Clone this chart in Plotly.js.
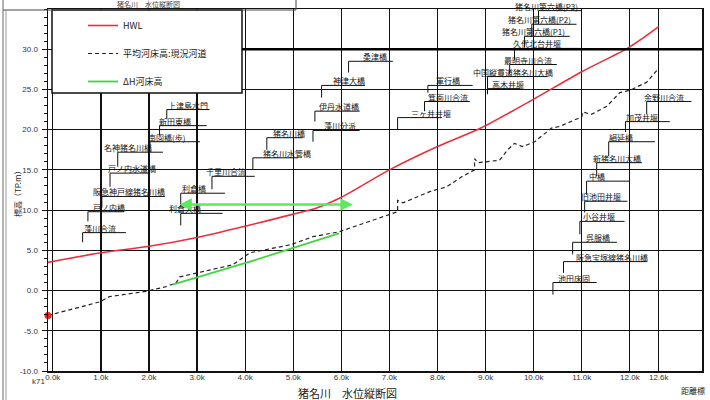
<!DOCTYPE html>
<html><head><meta charset="utf-8">
<script src="https://cdn.plot.ly/plotly-3.0.1.min.js"></script>
<style>html,body{margin:0;padding:0;background:#fff}#chart{width:710px;height:400px}</style>
</head><body><div id="chart"></div>
<script>
// HWL
const hwlKm = [-0.1, 1.0, 2.0, 3.0, 4.0, 5.0, 5.5, 6.0, 7.0, 8.0, 8.9, 10.0, 11.0, 12.0, 12.6];
const hwlEl = [3.5, 4.7, 5.5, 6.6, 8.0, 9.5, 10.3, 11.6, 15.0, 17.9, 20.2, 23.8, 27.2, 30.3, 32.8];
// 平均河床高：現況河道
const bedKm = [-0.1, 0.98, 1.18, 1.93, 2.37, 2.47, 2.55, 2.64, 3.74, 4.10, 4.95, 5.41, 5.95, 6.59, 7.17, 7.17, 7.28, 7.84, 8.19, 8.52, 8.77, 8.77, 8.84, 9.29, 9.46, 9.60, 9.77, 10.02, 10.37, 10.54, 10.89, 11.0, 11.02, 11.2, 11.52, 11.79, 11.93, 12.04, 12.35, 12.58];
const bedEl = [-3.1, -1.4, -0.75, -0.1, 0.5, 0.75, 0.8, 1.7, 3.2, 4.7, 5.7, 6.7, 7.3, 8.6, 9.8, 11.2, 10.9, 12.3, 12.9, 14.2, 15.0, 16.4, 15.9, 16.2, 17.5, 18.3, 17.9, 18.5, 20.2, 20.4, 21.3, 21.6, 22.2, 21.9, 22.9, 24.6, 24.8, 25.0, 25.9, 27.5];
// ΔH河床高
const dhKm = [2.49, 4.1, 5.95];
const dhEl = [0.75, 3.6, 7.1];
// 矢印
const arrowKm = [2.6, 6.24];
const arrowEl = 10.7;

// 構造物・合流点 ラベル
const lmName = ['上津島水門','新田東橋','南園橋(歩)','名神猪名川橋','戸ノ内水道橋','阪急神戸線猪名川橋','戸ノ内橋','藻川合流',
  '利倉橋','利倉大橋','千里川合流','猪名川水管橋','猪名川橋','藻川分派','伊丹水道橋','神津大橋','桑津橋',
  '軍行橋','箕面川合流','三ヶ井井堰','中国縦貫道猪名川大橋','高木井堰','最明寺川合流','久代北台井堰',
  '猪名川第六橋(P1)','猪名川第六橋(P2)','猪名川第六橋(P3)',
  '余野川合流','加茂井堰','絹延橋','新猪名川大橋','中橋','旧池田井堰','小谷井堰','呉服橋','阪急宝塚線猪名川橋','池田床固'];
const lmTextKm = [2.37,2.18,1.95,1.04,1.12,0.81,0.81,0.62,
  2.66,2.39,3.16,4.35,4.55,5.61,5.51,5.80,6.42,
  7.94,7.78,7.42,8.71,9.11,9.36,9.54,
  9.33,9.44,9.60,
  12.27,11.89,11.54,11.21,11.12,10.96,11.0,11.06,10.85,10.48];
const lmUnderEl = [22.5,20.5,18.5,17.2,14.6,11.7,9.8,7.2,
  12.1,9.6,14.2,16.5,19.0,19.9,22.3,25.5,28.5,
  25.5,23.5,21.5,26.6,25.1,28.1,30.1,
  31.6,33.1,34.8,
  23.5,21.0,18.5,15.9,13.6,11.1,8.6,6.0,3.6,1.0];
const lmLineKm = [2.37,2.22,2.02,1.35,1.19,1.02,0.73,0.62,
  2.66,2.66,3.31,4.16,4.45,5.41,5.45,5.59,6.15,
  7.80,7.73,7.17,9.04,9.04,9.50,9.60,
  9.81,9.96,10.10,
  12.35,11.91,11.56,11.31,11.10,11.06,10.96,10.81,10.62,10.40];
const lmEndKm = [3.26,3.20,3.06,2.29,2.02,2.33,1.48,1.52,
  3.58,3.53,4.20,5.09,5.20,6.38,6.38,6.49,7.07,
  8.73,8.67,8.09,10.29,9.71,10.48,10.96,
  10.75,10.89,11.0,
  13.28,12.83,12.52,12.25,12.0,11.95,11.89,11.73,12.35,11.31];
const lmBaseEl = [21.3,19.3,17.2,15.4,12.9,10.3,8.6,6.0,
  10.4,8.1,12.6,15.0,17.5,18.5,21.0,24.0,27.1,
  24.6,22.3,20.0,25.1,24.4,26.9,28.7,
  30.2,31.6,33.1,
  21.9,19.7,16.7,14.2,11.9,9.7,7.0,4.5,2.2,-0.5];

const xTickVals = [0,1,2,3,4,5,6,7,8,9,10,11,12,12.6];
const xTickText = ['0.0k','1.0k','2.0k','3.0k','4.0k','5.0k','6.0k','7.0k','8.0k','9.0k','10.0k','11.0k','12.0k','12.6k'];
const yTickVals = [-10,-5,0,5,10,15,20,25,30];
const yTickText = ['-10.0','-5.0','0.0','5.0','10.0','15.0','20.0','25.0','30.0'];

const JP = 'Noto Sans CJK JP, Liberation Sans, sans-serif';
const NUM = 'Liberation Sans, Noto Sans CJK JP, sans-serif';

// leader lines
const ldX = [], ldY = [];
for (let i = 0; i < lmName.length; i++) {
  ldX.push(lmLineKm[i], lmLineKm[i], lmEndKm[i], null);
  ldY.push(lmBaseEl[i], lmUnderEl[i], lmUnderEl[i], null);
}

const traces = [
  {x: hwlKm, y: hwlEl, mode: 'lines', name: 'HWL', legendgroup: 'a',
   line: {color: '#ee2d3a', width: 1.6, shape: 'spline', smoothing: 0.8}},
  {x: bedKm, y: bedEl, mode: 'lines', name: '平均河床高:現況河道', legendgroup: 'b',
   line: {color: '#222', width: 1.2, dash: '4px,3px'}},
  {x: dhKm, y: dhEl, mode: 'lines', name: 'ΔH河床高', legendgroup: 'c',
   line: {color: '#3ed83e', width: 1.8}},
  {x: [bedKm[0]], y: [bedEl[0]], mode: 'markers', showlegend: false,
   marker: {color: '#ee2222', size: 7}, cliponaxis: false},
  {x: ldX, y: ldY, mode: 'lines', showlegend: false, hoverinfo: 'skip',
   line: {color: '#111', width: 1}, connectgaps: false, cliponaxis: false}
];

const P = (px) => (px - 48) / 654;
const Q = (py) => (371 - py) / 362;

const annotations = lmName.map((n, i) => ({
  x: lmTextKm[i], y: lmUnderEl[i], xref: 'x', yref: 'y', text: n, showarrow: false,
  xanchor: 'left', yanchor: 'bottom', yshift: -2, borderpad: 0,
  font: {family: JP, size: 8, color: '#111'}
}));
annotations.push(
  {x: arrowKm[1], y: arrowEl, ax: arrowKm[0], ay: arrowEl, xref: 'x', yref: 'y', axref: 'x', ayref: 'y',
   text: '', showarrow: true, arrowside: 'end+start', arrowhead: 2, arrowsize: 1, arrowwidth: 2.5, arrowcolor: '#5ee85e'},
  {x: P(347), y: Q(393), xref: 'paper', yref: 'paper', text: '猪名川　水位縦断図', showarrow: false,
   xanchor: 'center', yanchor: 'middle', font: {family: JP, size: 11, color: '#222'}},
  {x: P(17), y: Q(192), xref: 'paper', yref: 'paper', text: '標高（TP.m）', showarrow: false, textangle: -90,
   xanchor: 'center', yanchor: 'middle', font: {family: JP, size: 8, color: '#222'}},
  {x: P(693), y: Q(390), xref: 'paper', yref: 'paper', text: '距離標', showarrow: false,
   xanchor: 'center', yanchor: 'middle', font: {family: JP, size: 8, color: '#222'}},
  {x: P(38), y: Q(381), xref: 'paper', yref: 'paper', text: 'k71', showarrow: false,
   xanchor: 'center', yanchor: 'middle', font: {family: NUM, size: 8, color: '#333'}},
  {x: P(148), y: Q(4), xref: 'paper', yref: 'paper', text: '猪名川　水位縦断図', showarrow: false,
   xanchor: 'center', yanchor: 'middle', font: {family: JP, size: 7, color: '#444'}}
);

const shapes = [
  // legend box
  {type: 'rect', xref: 'paper', yref: 'paper', x0: P(52), x1: P(242), y0: Q(93), y1: Q(10),
   fillcolor: '#fff', line: {color: '#111', width: 1.5}, layer: 'above'},
  // thick 30 line
  {type: 'line', xref: 'paper', yref: 'y', x0: P(242), x1: 1, y0: 30, y1: 30, line: {color: '#000', width: 2.5}},
  // header box
  {type: 'line', xref: 'paper', yref: 'paper', x0: P(3), x1: P(296), y0: Q(10), y1: Q(10), line: {color: '#444', width: 1}},
  {type: 'line', xref: 'paper', yref: 'paper', x0: P(296), x1: P(296), y0: Q(10), y1: Q(0), line: {color: '#444', width: 1}},
  // outer frame left
  {type: 'line', xref: 'paper', yref: 'paper', x0: P(3), x1: P(3), y0: Q(400), y1: Q(0), line: {color: '#666', width: 1}},
  {type: 'line', xref: 'paper', yref: 'paper', x0: P(6), x1: P(6), y0: Q(400), y1: Q(10), line: {color: '#999', width: 1}}
];

const layout = {
  width: 710, height: 400,
  margin: {l: 48, r: 8, t: 9, b: 29},
  paper_bgcolor: '#fff', plot_bgcolor: '#fff',
  showlegend: true,
  legend: {x: P(83), y: Q(11), xanchor: 'left', yanchor: 'top', bgcolor: 'rgba(0,0,0,0)', borderwidth: 0,
           font: {family: JP, size: 9, color: '#222'}, tracegroupgap: 9, itemwidth: 30},
  xaxis: {range: [-0.1, 13.5], tickmode: 'array', tickvals: xTickVals, ticktext: xTickText,
          showgrid: true, gridcolor: '#111', gridwidth: 1.2, zeroline: false,
          showline: true, linecolor: '#111', linewidth: 1.5, mirror: true, ticks: '',
          ticklabelstandoff: -2,
          tickfont: {family: NUM, size: 8, color: '#333'}},
  yaxis: {range: [-10, 35], tickmode: 'array', tickvals: yTickVals, ticktext: yTickText,
          showgrid: true, gridcolor: '#111', gridwidth: 1.2, zeroline: false,
          showline: true, linecolor: '#111', linewidth: 1.5, mirror: true,
          ticks: 'outside', ticklen: 5, tickcolor: '#111', ticklabelstandoff: 2,
          minor: {dtick: 1, ticks: 'outside', ticklen: 3, tickcolor: '#111', showgrid: false},
          tickfont: {family: NUM, size: 8, color: '#333'}},
  annotations: annotations,
  shapes: shapes
};

Plotly.newPlot('chart', traces, layout, {staticPlot: true, displayModeBar: false});
</script>
</body></html>
